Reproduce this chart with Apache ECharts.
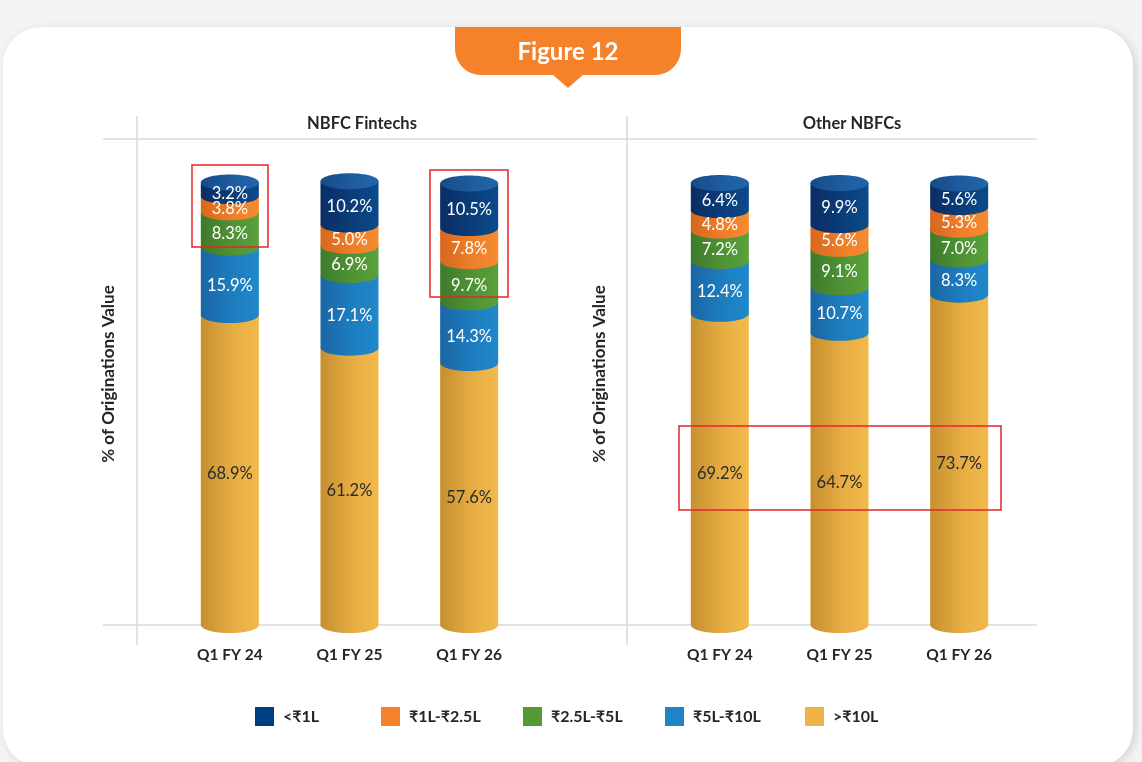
<!DOCTYPE html>
<html>
<head>
<meta charset="utf-8">
<script src="https://cdn.jsdelivr.net/npm/echarts@6/dist/echarts.min.js"></script>
<style>
  html, body { margin: 0; padding: 0; width: 1142px; height: 762px; overflow: hidden; background: #f3f3f3; }
  #card { position: absolute; left: 3px; top: 27px; width: 1130px; height: 740px; background: #ffffff;
          border-radius: 38px; box-shadow: 3px 2px 8px rgba(0,0,0,0.13); }
  #chart { position: absolute; left: 0; top: 0; width: 1142px; height: 762px; }
</style>
</head>
<body>
<div id="card"></div>
<div id="chart"></div>
<script>
// ---- data ----
const categories = ['Q1 FY 24', 'Q1 FY 25', 'Q1 FY 26'];
const panelTitles = ['NBFC Fintechs', 'Other NBFCs'];
const bandNames = ['<₹1L', '₹1L-₹2.5L', '₹2.5L-₹5L', '₹5L-₹10L', '>₹10L'];
const yAxisTitle = '% of Originations Value';
const figureTitle = 'Figure 12';

// NBFC Fintechs
const fintech_lt1L   = [3.2, 10.2, 10.5];
const fintech_1to2_5 = [3.8, 5.0, 7.8];
const fintech_2_5to5 = [8.3, 6.9, 9.7];
const fintech_5to10  = [15.9, 17.1, 14.3];
const fintech_gt10   = [68.9, 61.2, 57.6];

// Other NBFCs
const other_lt1L   = [6.4, 9.9, 5.6];
const other_1to2_5 = [4.8, 5.6, 5.3];
const other_2_5to5 = [7.2, 9.1, 7.0];
const other_5to10  = [12.4, 10.7, 8.3];
const other_gt10   = [69.2, 64.7, 73.7];

// axis range (3D floor sits slightly below zero)
const Y_MIN = -4.12;
const Y_MAX = 110.37;

// ---- styles ----
const FONT = 'Lato, "DejaVu Sans", "Noto Sans", sans-serif';
const legendColors = ['#003f7f', '#f5822a', '#539a35', '#1f84c6', '#f0b446'];
const gradColors = [
  ['#0a2d64', '#0b3d7a', '#0c4a8b'],
  ['#d6671e', '#ef7f2a', '#f68b30'],
  ['#3d7a2b', '#4f9334', '#5aa03b'],
  ['#1a66a4', '#1e7dbf', '#2088ca'],
  ['#c68f2f', '#e6ad43', '#f2b94c']
];
const capGrad = ['#174b88', '#1d5c9f', '#2166aa'];
const labelColors = ['#ffffff', '#ffffff', '#ffffff', '#ffffff', '#2b2b2b'];

function grad(c) {
  return new echarts.graphic.LinearGradient(0, 0, 1, 0, [
    { offset: 0, color: c[0] }, { offset: 0.55, color: c[1] }, { offset: 1, color: c[2] }
  ]);
}

const panels = [
  [fintech_lt1L, fintech_1to2_5, fintech_2_5to5, fintech_5to10, fintech_gt10],
  [other_lt1L, other_1to2_5, other_2_5to5, other_5to10, other_gt10]
];

// build stacked [cat, base, value] items; stacking from bottom (>10L) to top (<1L)
function stackedItems(panel, bandIdx) {
  return categories.map((c, i) => {
    let base = 0;
    for (let b = panel.length - 1; b > bandIdx; b--) base += panel[b][i];
    return [i, base, panel[bandIdx][i]];
  });
}

function makeRender(bandIdx) {
  return function (params, api) {
    const x = api.value(0), base = api.value(1), v = api.value(2);
    const isBottom = bandIdx === bandNames.length - 1;
    const p0 = api.coord([x, isBottom ? Y_MIN : base]);
    const p1 = api.coord([x, base + v]);
    const bw = api.size([1, 0])[0] * 0.485;
    const rx = bw / 2, ry = 8, cx = p0[0];
    const path = 'M' + (cx - rx) + ' ' + p1[1] + ' L' + (cx + rx) + ' ' + p1[1] +
      ' L' + (cx + rx) + ' ' + p0[1] + ' A' + rx + ' ' + ry + ' 0 0 1 ' + (cx - rx) + ' ' + p0[1] + ' Z';
    const children = [{
      type: 'path',
      shape: { pathData: path },
      style: { fill: grad(gradColors[bandIdx]) }
    }];
    if (bandIdx === 0) {
      children.push({
        type: 'ellipse',
        shape: { cx: cx, cy: p1[1], rx: rx, ry: ry },
        style: { fill: grad(capGrad) }
      });
    }
    children.push({
      type: 'text',
      style: {
        text: v.toFixed(1) + '%',
        x: cx, y: (p0[1] + p1[1]) / 2 + 4,
        align: 'center', verticalAlign: 'middle',
        fill: labelColors[bandIdx], font: '16.5px ' + FONT
      },
      z2: 10
    });
    return { type: 'group', children: children };
  };
}

const series = [];
[0, 1].forEach(function (pi) {
  for (let b = bandNames.length - 1; b >= 0; b--) {
    series.push({
      type: 'custom',
      name: bandNames[b],
      xAxisIndex: pi, yAxisIndex: pi,
      itemStyle: { color: legendColors[b] },
      renderItem: makeRender(b),
      data: stackedItems(panels[pi], b),
      encode: { x: 0, y: [1, 2] },
      z: 2
    });
  }
});

const legendLefts = [255, 381, 523, 665, 805];
const legends = bandNames.map((n, i) => ({
  data: [n], left: legendLefts[i], top: 707, orient: 'horizontal', padding: 0,
  icon: 'rect', itemWidth: 19, itemHeight: 19, itemGap: 10,
  selectedMode: false,
  textStyle: { fontFamily: FONT, fontWeight: 'bold', fontSize: 16, color: '#262626', padding: [0, 0, 0, 4] }
}));

const gridLineStyle = { stroke: '#d9d9d9', lineWidth: 1.5 };
const redStyle = { stroke: '#e5262a', lineWidth: 1.5, fill: 'none' };
const yTitleFont = 'bold 17px ' + FONT;

const option = {
  animation: false,
  grid: [
    { left: 170, width: 359, top: 139, height: 486 },
    { left: 660, width: 359, top: 139, height: 486 }
  ],
  xAxis: [0, 1].map(i => ({
    type: 'category', gridIndex: i, data: categories,
    axisLine: { show: false }, axisTick: { show: false },
    axisLabel: { margin: 22, fontFamily: FONT, fontWeight: 'bold', fontSize: 15.5, color: '#262626' }
  })),
  yAxis: [0, 1].map(i => ({
    type: 'value', gridIndex: i, min: Y_MIN, max: Y_MAX,
    axisLine: { show: false }, axisTick: { show: false }, axisLabel: { show: false }, splitLine: { show: false }
  })),
  title: [
    { text: panelTitles[0], left: 357, top: 110, textAlign: 'center',
      textStyle: { fontFamily: FONT, fontWeight: 'bold', fontSize: 16.5, color: '#262626' } },
    { text: panelTitles[1], left: 847, top: 110, textAlign: 'center',
      textStyle: { fontFamily: FONT, fontWeight: 'bold', fontSize: 16.5, color: '#262626' } }
  ],
  legend: legends,
  graphic: [
    { type: 'line', shape: { x1: 103, y1: 139, x2: 1037, y2: 139 }, style: gridLineStyle, z: 0 },
    { type: 'line', shape: { x1: 103, y1: 625, x2: 1037, y2: 625 }, style: gridLineStyle, z: 0 },
    { type: 'line', shape: { x1: 137, y1: 116, x2: 137, y2: 645 }, style: gridLineStyle, z: 0 },
    { type: 'line', shape: { x1: 627, y1: 116, x2: 627, y2: 645 }, style: gridLineStyle, z: 0 },
    { type: 'text', x: 109, y: 374, rotation: Math.PI / 2,
      style: { text: yAxisTitle, x: 0, y: 0, align: 'center', verticalAlign: 'middle', fill: '#262626', font: yTitleFont }, z: 5 },
    { type: 'text', x: 600, y: 374, rotation: Math.PI / 2,
      style: { text: yAxisTitle, x: 0, y: 0, align: 'center', verticalAlign: 'middle', fill: '#262626', font: yTitleFont }, z: 5 },
    { type: 'rect', shape: { x: 455, y: 27, width: 226, height: 48, r: [0, 0, 26, 26] }, style: { fill: '#f5822a' }, z: 50 },
    { type: 'polygon', shape: { points: [[552, 74], [584, 74], [568, 88]] }, style: { fill: '#f5822a' }, z: 50 },
    { type: 'text', style: { text: figureTitle, x: 568, y: 52, align: 'center', verticalAlign: 'middle',
        fill: '#ffffff', font: 'bold 24px ' + FONT }, z: 51 },
    { type: 'rect', shape: { x: 192, y: 165, width: 76, height: 82 }, style: redStyle, z: 100 },
    { type: 'rect', shape: { x: 430, y: 170, width: 78, height: 127 }, style: redStyle, z: 100 },
    { type: 'rect', shape: { x: 679, y: 426, width: 322, height: 84 }, style: redStyle, z: 100 }
  ],
  series: series
};

const chart = echarts.init(document.getElementById('chart'), null, { renderer: 'canvas' });
chart.setOption(option);
</script>
</body>
</html>
